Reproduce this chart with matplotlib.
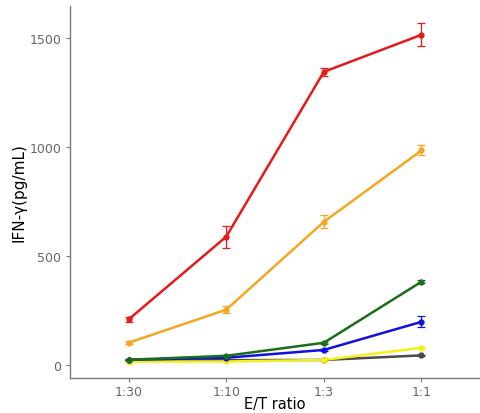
import matplotlib
matplotlib.use('Agg')
import matplotlib.pyplot as plt

# E/T ratios on the x axis
ratios = ['1:30', '1:10', '1:3', '1:1']

# IFN-gamma (pg/mL) per group, with error bars
red = [208, 588, 1345, 1515]
red_err = [12, 50, 18, 53]
orange = [101, 253, 656, 984]
orange_err = [8, 15, 30, 23]
green = [23, 41, 101, 381]
green_err = [3, 4, 5, 6]
blue = [23, 32, 68, 197]
blue_err = [3, 4, 5, 25]
yellow = [14, 15, 22, 78]
yellow_err = [2, 2, 2, 4]
gray = [20, 21, 22, 43]
gray_err = [2, 2, 2, 3]

series = [
    (red, red_err, '#e41a1c'),
    (orange, orange_err, '#f5a623'),
    (green, green_err, '#1a6e1a'),
    (blue, blue_err, '#1010e0'),
    (yellow, yellow_err, '#f5f01a'),
    (gray, gray_err, '#4a4a4a'),
]

fig = plt.figure(figsize=(4.8, 4.14), dpi=100)
ax = fig.add_axes([0.146, 0.085, 0.854, 0.898])

x = list(range(1, len(ratios) + 1))
for vals, errs, col in series[::-1]:
    ax.errorbar(x, vals, yerr=errs, color=col, linewidth=1.8, marker='o',
                markersize=3.5, capsize=3, elinewidth=0.9, capthick=0.9)

ax.set_xlim(0.4, 4.6)
ax.set_ylim(-60, 1647)
ax.set_xticks(x)
ax.set_xticklabels(ratios)
ax.set_yticks([0, 500, 1000, 1500])

ax.set_xlabel('E/T ratio', fontsize=10.5, labelpad=-1)
ax.set_ylabel('IFN-\u03b3(pg/mL)', fontsize=11, labelpad=2)

for side in ['top', 'right']:
    ax.spines[side].set_visible(False)
for side in ['left', 'bottom']:
    ax.spines[side].set_color('#7a7a7a')
    ax.spines[side].set_linewidth(1.0)
ax.tick_params(colors='#7a7a7a', labelcolor='#666666', labelsize=9, length=3)
ax.tick_params(axis='x', pad=2)

fig.savefig('out.png', dpi=100, facecolor='white')
